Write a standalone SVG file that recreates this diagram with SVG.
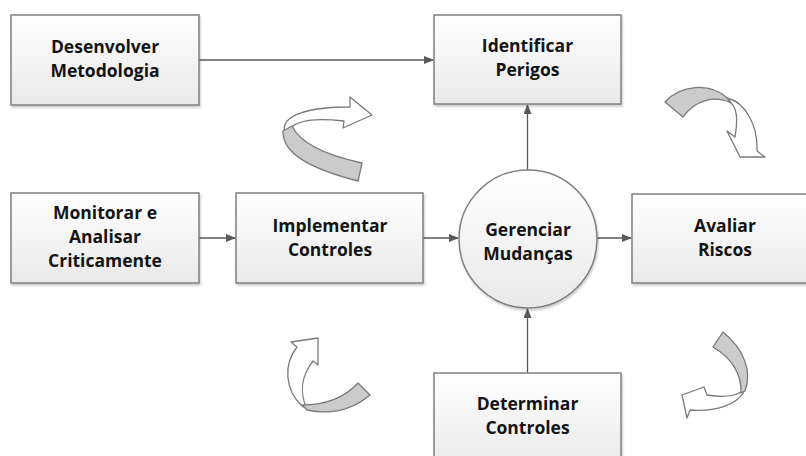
<svg xmlns="http://www.w3.org/2000/svg" width="806" height="456" viewBox="0 0 806 456">
<defs>
<linearGradient id="g" x1="0" y1="0" x2="0" y2="1">
<stop offset="0" stop-color="#ffffff"/>
<stop offset="1" stop-color="#e9e9e9"/>
</linearGradient>
<filter id="sh" x="-10%" y="-10%" width="125%" height="130%">
<feDropShadow dx="1" dy="2" stdDeviation="1.2" flood-color="#000" flood-opacity="0.2"/>
</filter>
<marker id="ah" markerWidth="10" markerHeight="8" refX="9" refY="4" orient="auto" markerUnits="userSpaceOnUse">
<path d="M0,0 L10,4 L0,8 Z" fill="#595959"/>
</marker>
</defs>
<style>
.box{fill:url(#g);stroke:#7f7f7f;stroke-width:1.5;filter:url(#sh)}
.t{font-family:"Open Sans","Liberation Sans",sans-serif;font-weight:bold;font-size:17.5px;fill:#141414;text-anchor:middle}
.c{stroke:#595959;stroke-width:1.3;fill:none;marker-end:url(#ah)}
.w{fill:#ffffff;stroke:#7a7a7a;stroke-width:1.3;stroke-linejoin:round}
.k{fill:#cbcbcb;stroke:#7a7a7a;stroke-width:1.3;stroke-linejoin:round}
</style>
<rect width="806" height="456" fill="#ffffff"/>
<g id="connectors">
<line class="c" x1="199" y1="60" x2="433" y2="60"/>
<line class="c" x1="199" y1="238" x2="235" y2="238"/>
<line class="c" x1="423" y1="238" x2="458" y2="238"/>
<line class="c" x1="597" y1="238" x2="631" y2="238"/>
<line class="c" x1="527.5" y1="170" x2="527.5" y2="105"/>
<line class="c" x1="527.5" y1="373" x2="527.5" y2="309"/>
</g>
<g id="cycle-arrows">
<path class="w" d="M285,133 C279,114 312,107 350,107 L350,97 L372,115 L343,128 L344,121 C318,118 298,120 291,128 Z"/>
<path class="k" d="M283,131 C282,155 315,170 358,181 L362,163 C325,155 300,143 292,126 Z"/>
<path class="w" d="M727,98 C745,102 758,125 757,151 L765,157 L740,157 L727,131 L735,137 C738,120 737,108 731,103 Z"/>
<path class="k" d="M665,102 C680,85 710,82 727,98 L731,103 C715,95 695,100 683,117 Z"/>
<path class="w" d="M302,406 C285,390 283,365 297,347 L291,342 L318,338 L318,365 L313,361 C302,375 299,392 307,409 Z"/>
<path class="k" d="M302,405 C325,405 345,397 358,383 L370,395 C352,410 330,415 307,410 Z"/>
<path class="w" d="M741,392 C733,397 720,397 707,395 L704,387 L682,395 L687,418 L690,410 C715,412 738,405 745,390 Z"/>
<path class="k" d="M723,332 C745,350 752,372 745,391 L741,393 C742,375 732,358 713,347 Z"/>
</g>
<g id="desenvolver">
<rect class="box" x="11" y="15" width="188" height="90"/>
<text class="t" x="105" y="53">Desenvolver</text>
<text class="t" x="105" y="77">Metodologia</text>
</g>
<g id="identificar">
<rect class="box" x="434" y="15" width="187" height="89"/>
<text class="t" x="527.5" y="52">Identificar</text>
<text class="t" x="527.5" y="76">Perigos</text>
</g>
<g id="monitorar">
<rect class="box" x="11" y="193" width="188" height="90"/>
<text class="t" x="105" y="219">Monitorar e</text>
<text class="t" x="105" y="243">Analisar</text>
<text class="t" x="105" y="267">Criticamente</text>
</g>
<g id="implementar">
<rect class="box" x="236" y="193" width="187" height="90"/>
<text class="t" x="330" y="232">Implementar</text>
<text class="t" x="330" y="256">Controles</text>
</g>
<g id="gerenciar">
<circle class="box" cx="528" cy="239" r="69"/>
<text class="t" x="528" y="236">Gerenciar</text>
<text class="t" x="528" y="260">Mudanças</text>
</g>
<g id="avaliar">
<rect class="box" x="632" y="194" width="190" height="89"/>
<text class="t" x="725" y="232">Avaliar</text>
<text class="t" x="725" y="256">Riscos</text>
</g>
<g id="determinar">
<rect class="box" x="434" y="373" width="187" height="92"/>
<text class="t" x="527.5" y="410">Determinar</text>
<text class="t" x="527.5" y="434">Controles</text>
</g>
</svg>
